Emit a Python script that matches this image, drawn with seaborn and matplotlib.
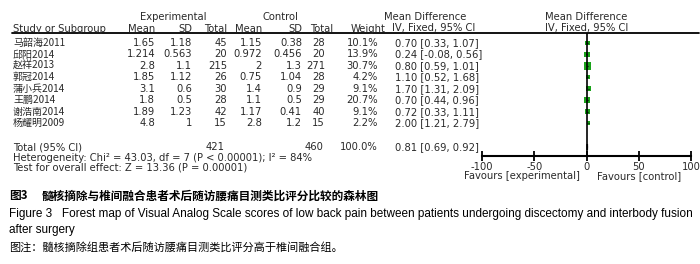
import numpy as np
import pandas as pd
import matplotlib
matplotlib.use("Agg")
import matplotlib.pyplot as plt
from matplotlib.lines import Line2D
import seaborn as sns

# Data
studies = ["马韶海2011", "邱阳2014", "赵祥2013", "郭冠2014",
           "蒲小兵2014", "王鹏2014", "谢浩南2014", "杨耀明2009"]
exp_mean = ["1.65", "1.214", "2.8", "1.85", "3.1", "1.8", "1.89", "4.8"]
exp_sd = ["1.18", "0.563", "1.1", "1.12", "0.6", "0.5", "1.23", "1"]
exp_n = [45, 20, 215, 26, 30, 28, 42, 15]
ctl_mean = ["1.15", "0.972", "2", "0.75", "1.4", "1.1", "1.17", "2.8"]
ctl_sd = ["0.38", "0.456", "1.3", "1.04", "0.9", "0.5", "0.41", "1.2"]
ctl_n = [28, 20, 271, 28, 29, 29, 40, 15]
weight = [10.1, 13.9, 30.7, 4.2, 9.1, 20.7, 9.1, 2.2]
md = [0.70, 0.24, 0.80, 1.10, 1.70, 0.70, 0.72, 2.00]
ci_low = [0.33, -0.08, 0.59, 0.52, 1.31, 0.44, 0.33, 1.21]
ci_high = [1.07, 0.56, 1.01, 1.68, 2.09, 0.96, 1.11, 2.79]
total_exp, total_ctl = 421, 460
total_md, total_low, total_high = 0.81, 0.69, 0.92
x_ticks = [-100, -50, 0, 50, 100]

W, H = 700, 264
TXT = "#2a2a2a"
GREEN = "#19a319"

sns.set_theme(style="white")
plt.rcParams["font.family"] = ["DejaVu Sans", "Noto Sans CJK SC"]
CJK = ["Noto Sans CJK SC", "DejaVu Sans"]
FS = 7.2

fig = plt.figure(figsize=(W / 100, H / 100), dpi=100)


def put(x, y, s, ha="left", **kw):
    kw.setdefault("fontsize", FS)
    kw.setdefault("color", TXT)
    fig.text(x / W, 1 - y / H, s, ha=ha, va="center", **kw)


# headers
put(173, 17, "Experimental", ha="center")
put(280, 17, "Control", ha="center")
put(425, 17, "Mean Difference", ha="center")
put(586, 17, "Mean Difference", ha="center")
hy = 28.5
put(13, hy, "Study or Subgroup")
put(155, hy, "Mean", ha="right")
put(192, hy, "SD", ha="right")
put(227, hy, "Total", ha="right")
put(262, hy, "Mean", ha="right")
put(302, hy, "SD", ha="right")
put(333, hy, "Total", ha="right")
put(386, hy, "Weight", ha="right")
put(392, hy, "IV, Fixed, 95% CI")
put(587, hy, "IV, Fixed, 95% CI", ha="center")
fig.add_artist(Line2D([12 / W, 699 / W], [1 - 33 / H, 1 - 33 / H],
                      color="black", lw=1.3, transform=fig.transFigure))

# study rows
row_y = 43 + 11.45 * np.arange(len(studies))
for i, y in enumerate(row_y):
    put(13, y, studies[i], family=CJK)
    put(155, y, exp_mean[i], ha="right")
    put(192, y, exp_sd[i], ha="right")
    put(227, y, str(exp_n[i]), ha="right")
    put(262, y, ctl_mean[i], ha="right")
    put(302, y, ctl_sd[i], ha="right")
    put(325, y, str(ctl_n[i]), ha="right")
    put(378, y, f"{weight[i]:.1f}%", ha="right")
    put(395, y, f"{md[i]:.2f} [{ci_low[i]:.2f}, {ci_high[i]:.2f}]")

total_y = 147
put(13, total_y, "Total (95% CI)")
put(225, total_y, str(total_exp), ha="right")
put(323, total_y, str(total_ctl), ha="right")
put(378, total_y, "100.0%", ha="right")
put(395, total_y, f"{total_md:.2f} [{total_low:.2f}, {total_high:.2f}]")
put(13, 158, "Heterogeneity: Chi² = 43.03, df = 7 (P < 0.00001); I² = 84%")
put(13, 168, "Test for overall effect: Z = 13.36 (P = 0.00001)")

# forest panel, y axis in pixel rows so it lines up with the table
ax = fig.add_axes([482 / W, 1 - 156 / H, (691 - 482) / W, (156 - 33) / H])
ax.set_xlim(-100, 100)
ax.set_ylim(156, 33)
ax.set_facecolor("none")

df = pd.DataFrame({"md": md, "y": row_y, "weight": weight,
                   "lo": ci_low, "hi": ci_high})
ax.hlines(df["y"], df["lo"], df["hi"], color="black", lw=0.8)
sns.scatterplot(data=df, x="md", y="y", size="weight", sizes=(6, 30),
                marker="s", color=GREEN, linewidth=0, legend=False, ax=ax)
ax.fill([total_low, total_md, total_high, total_md],
        [total_y, total_y - 3, total_y, total_y + 3], color="black")
ax.axvline(0, color="black", lw=1.2)

for side in ["top", "right", "left"]:
    ax.spines[side].set_visible(False)
ax.spines["bottom"].set_linewidth(1.5)
ax.spines["bottom"].set_color("black")
ax.set_yticks([])
ax.set_xticks(x_ticks)
ax.set_xticklabels([str(t) for t in x_ticks])
ax.tick_params(axis="x", direction="inout", length=7, width=1.3,
               labelsize=FS, pad=1, colors="black", labelcolor=TXT, bottom=True)
ax.set_xlabel("")
ax.set_ylabel("")
put(580, 176, "Favours [experimental]", ha="right")
put(597, 176, "Favours [control]")

# caption
cap_fs = 8.4
put(9, 196, "图3", family=CJK, fontsize=cap_fs, weight="bold", color="black")
put(42, 196, "髓核摘除与椎间融合患者术后随访腰痛目测类比评分比较的森林图",
    family=CJK, fontsize=cap_fs, weight="bold", color="black")
EN = "Liberation Sans"
put(9, 214, "Figure 3   Forest map of Visual Analog Scale scores of low back pain "
    "between patients undergoing discectomy and interbody fusion",
    family=EN, fontsize=8.5, color="black")
put(9, 230, "after surgery", family=EN, fontsize=8.5, color="black")
put(9, 247, "图注：髓核摘除组患者术后随访腰痛目测类比评分高于椎间融合组。",
    family=CJK, fontsize=8.0, color="black")

fig.savefig("out.png", dpi=100)
